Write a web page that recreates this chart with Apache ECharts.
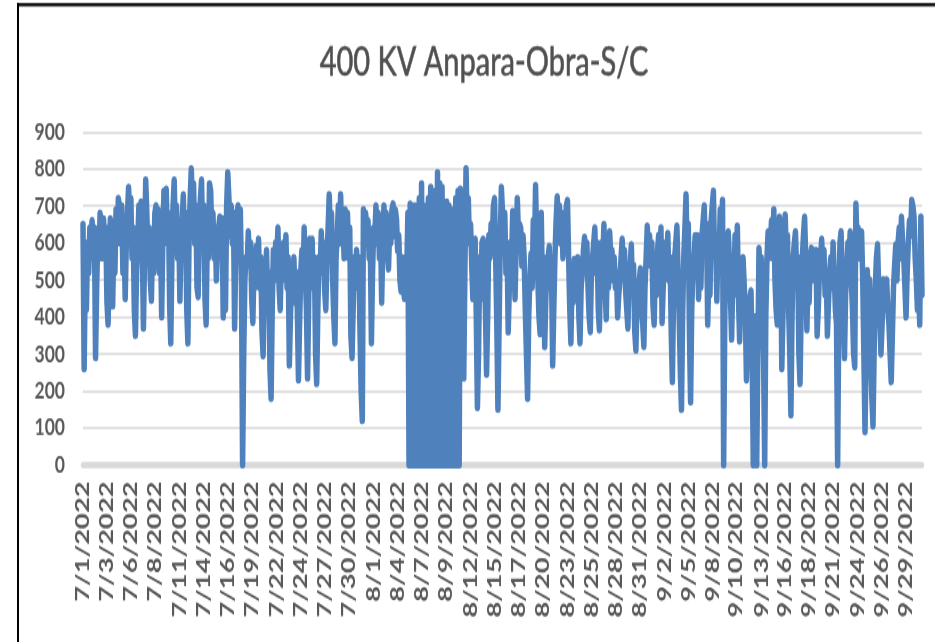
<!DOCTYPE html>
<html>
<head>
<meta charset="utf-8">
<script src="https://cdn.jsdelivr.net/npm/echarts@6/dist/echarts.min.js"></script>
<style>
html,body{margin:0;padding:0;background:#fff;width:935px;height:642px;overflow:hidden;}
#c{width:935px;height:459px;transform:scaleY(1.39869);transform-origin:0 0;}
</style>
</head>
<body>
<div id="c"></div>
<script>
// ---- data ----
const chartTitle = '400 KV Anpara-Obra-S/C';
const startYear = 2022, startMonth = 7, startDay = 1;
const pointsPerDay = 8;           // 3-hourly readings
const yTicks = [0, 100, 200, 300, 400, 500, 600, 700, 800, 900];
// one row per day, 8 readings per day (MW)
const flowRows = [
[650,260,520,420,600,520,640,600],
[660,560,640,290,480,620,560,680],
[640,560,665,600,640,440,380,560],
[665,560,430,600,520,690,600,720],
[700,600,700,520,620,450,600,680],
[750,640,720,560,640,420,350,520],
[600,700,560,710,600,370,560,770],
[680,560,640,500,445,600,520,680],
[700,600,690,520,620,400,600,740],
[680,745,600,680,430,330,560,700],
[770,620,700,560,640,445,600,660],
[730,560,680,420,330,600,720,800],
[700,760,600,700,480,455,640,720],
[770,600,700,450,380,620,560,760],
[740,620,680,560,640,500,600,640],
[670,560,665,400,500,420,700,790],
[720,620,700,600,680,370,560,680],
[700,600,690,500,0,300,500,560],
[540,630,560,600,450,385,540,480],
[590,500,610,480,560,360,295,480],
[520,580,440,520,260,180,420,580],
[500,600,560,640,480,420,560,500],
[600,520,620,480,560,270,400,520],
[480,560,440,520,420,230,380,520],
[580,480,640,520,420,235,450,610],
[540,610,480,560,300,220,420,560],
[520,630,540,600,470,420,560,640],
[730,620,680,500,400,330,560,620],
[700,600,730,600,680,560,690,620],
[680,560,640,350,290,420,560,480],
[580,480,560,360,200,120,690,600],
[680,600,660,560,610,330,520,640],
[620,700,600,680,560,640,440,600],
[700,600,680,580,530,640,600,690],
[705,620,690,665,580,620,500,470],
[560,480,450,560,520,680,0,705],
[0,690,0,700,0,680,0,720],
[0,760,0,700,0,690,0,720],
[0,750,0,700,0,740,0,790],
[0,760,0,750,0,700,0,710],
[0,700,0,690,0,680,0,720],
[0,740,0,745,560,400,235,520],
[800,650,720,600,650,540,450,560],
[610,400,155,300,560,450,600,610],
[560,420,245,400,620,560,650,600],
[700,720,560,380,150,150,600,750],
[750,620,680,520,600,360,480,600],
[560,685,560,450,600,720,620,650],
[640,540,620,560,420,300,180,400],
[500,570,480,660,560,755,600,500],
[400,355,680,480,560,320,450,540],
[560,590,480,520,270,420,560,660],
[725,640,700,600,680,560,675,620],
[700,715,560,420,330,500,440,555],
[540,460,560,400,330,480,520,580],
[615,520,600,480,400,360,520,560],
[560,640,520,600,420,365,520,600],
[560,650,480,395,560,480,630,560],
[580,500,560,480,520,400,460,500],
[560,610,520,580,470,420,370,500],
[540,595,480,540,360,310,440,480],
[500,530,420,380,320,480,560,645],
[560,620,540,600,430,380,520,460],
[580,620,520,640,385,480,560,600],
[540,625,500,560,360,225,440,560],
[600,645,520,400,250,150,400,560],
[640,730,560,650,350,170,420,520],
[560,620,520,620,450,560,480,620],
[660,700,560,650,380,520,460,660],
[700,740,560,620,445,600,560,690],
[620,715,0,400,600,560,630,560],
[450,340,500,460,620,560,645,450],
[335,460,420,560,565,420,230,350],
[420,450,470,300,0,300,400,0],
[300,585,500,560,420,300,0,400],
[560,630,560,600,660,560,690,500],
[420,380,520,670,630,260,400,560],
[675,560,620,420,300,135,400,560],
[600,630,520,560,300,220,420,560],
[620,670,560,365,500,440,560,585],
[500,580,520,580,350,420,520,560],
[610,520,580,460,520,350,440,520],
[560,480,600,520,420,380,0,400],
[600,630,520,420,290,460,520,600],
[560,630,500,420,300,265,705,600],
[640,560,620,630,500,300,90,300],
[525,420,500,300,180,105,300,480],
[560,595,480,400,300,380,500,460],
[480,500,420,380,300,225,350,480],
[540,595,500,600,640,560,670,600],
[560,480,400,520,600,660,620,715],
[700,670,560,500,420,480,380,670]
];
const lastReading = [460];

// ---- build series / categories ----
const values = flowRows.flat().concat(lastReading);
const categories = values.map((v, i) => {
  const d = new Date(startYear, startMonth - 1, startDay + Math.floor(i / pointsPerDay));
  return (d.getMonth() + 1) + '/' + d.getDate() + '/' + d.getFullYear();
});
// Excel shows a label every 255 quarter-hour blocks = 21.25 points at 8/day
const labelStep = 255 / (96 / pointsPerDay);
const showLabel = (idx) => {
  const k = Math.round(idx / labelStep);
  return Math.floor(k * labelStep) === idx;
};

const chart = echarts.init(document.getElementById('c'), null, {renderer: 'canvas'});
const grey = '#595959';
chart.setOption({
  animation: false,
  backgroundColor: '#ffffff',
  grid: {left: 83, right: 13, top: 94.4, bottom: 126.8, containLabel: false},
  graphic: [
    {type: 'rect', shape: {x: 17, y: 2.2, width: 918, height: 2.2}, style: {fill: '#000'}},
    {type: 'rect', shape: {x: 17, y: 2.2, width: 2, height: 460}, style: {fill: '#000'}},
    {type: 'text', x: 484, y: 44.5, style: {text: chartTitle, fill: '#505050', font: '29px Lato', textAlign: 'center', textVerticalAlign: 'middle', stroke: '#505050', lineWidth: 0.5}}
  ],
  xAxis: {
    type: 'category',
    data: categories,
    boundaryGap: false,
    axisLine: {show: true, lineStyle: {color: '#d9d9d9', width: 4.5}},
    axisTick: {show: false},
    axisLabel: {
      interval: (idx) => showLabel(idx),
      rotate: 90,
      margin: 12,
      color: grey,
      fontFamily: 'Lato',
      fontWeight: 'bold',
      fontSize: 19.5
    },
    splitLine: {show: false}
  },
  yAxis: {
    type: 'value',
    min: yTicks[0],
    max: yTicks[yTicks.length - 1],
    interval: yTicks[1] - yTicks[0],
    axisLine: {show: false},
    axisTick: {show: false},
    axisLabel: {color: grey, fontFamily: 'Lato', fontWeight: 'bold', fontSize: 17.5, margin: 18},
    splitLine: {show: true, lineStyle: {color: '#d9d9d9', width: 1.5}}
  },
  series: [{
    type: 'line',
    data: values,
    showSymbol: false,
    symbol: 'none',
    sampling: null,
    lineStyle: {color: '#4f81bd', width: 5.5, cap: 'round', join: 'round'},
    itemStyle: {color: '#4f81bd'},
    z: 3
  }]
});
</script>
</body>
</html>
